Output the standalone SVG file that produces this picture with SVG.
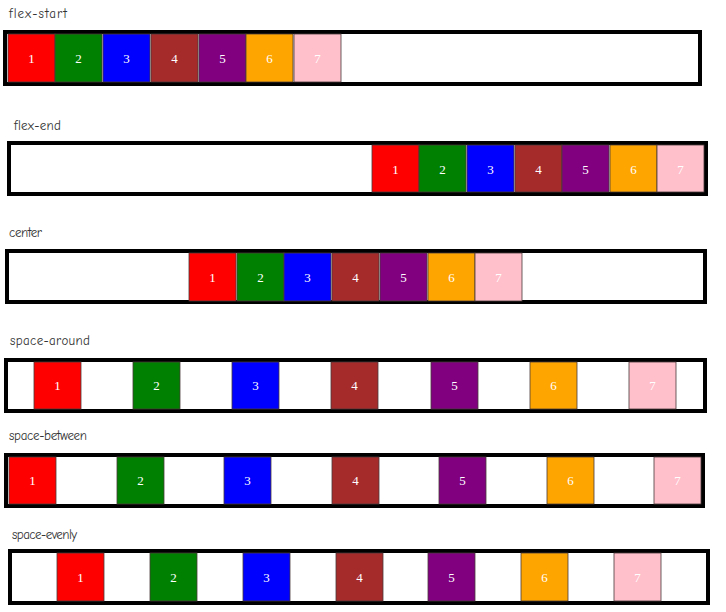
<svg xmlns="http://www.w3.org/2000/svg" width="726" height="612" viewBox="0 0 726 612">
<style>
.lbl{font-family:"Comic Neue","DejaVu Sans","Liberation Sans",sans-serif;font-size:13px;fill:#333}
.box{fill:#fff;stroke:#000;stroke-width:4}
.it{stroke:#4a3a3a;stroke-width:0.8}
.n{font-family:"Liberation Serif","Times New Roman",serif;font-size:13px;fill:#fff;text-anchor:middle;dominant-baseline:central}
.c1{fill:#ff0000}.c2{fill:#008000}.c3{fill:#0000ff}.c4{fill:#a52a2a}.c5{fill:#800080}.c6{fill:#ffa500}.c7{fill:#ffc0cb}
</style>
<rect width="726" height="612" fill="#fff"/>

<g id="flex-start">
<text class="lbl" x="9" y="18" textLength="58">flex-start</text>
<rect class="box" x="5" y="32" width="695" height="52"/>
<g id="fs1"><rect class="it c1" x="8" y="34" width="47" height="48"/><text class="n" x="31.5" y="58">1</text></g>
<g id="fs2"><rect class="it c2" x="55" y="34" width="47" height="48"/><text class="n" x="78.5" y="58">2</text></g>
<g id="fs3"><rect class="it c3" x="103" y="34" width="47" height="48"/><text class="n" x="126.5" y="58">3</text></g>
<g id="fs4"><rect class="it c4" x="151" y="34" width="47" height="48"/><text class="n" x="174.5" y="58">4</text></g>
<g id="fs5"><rect class="it c5" x="199" y="34" width="47" height="48"/><text class="n" x="222.5" y="58">5</text></g>
<g id="fs6"><rect class="it c6" x="246" y="34" width="47" height="48"/><text class="n" x="269.5" y="58">6</text></g>
<g id="fs7"><rect class="it c7" x="294" y="34" width="47" height="48"/><text class="n" x="317.5" y="58">7</text></g>
</g>

<g id="flex-end">
<text class="lbl" x="14" y="130" textLength="47">flex-end</text>
<rect class="box" x="9" y="143" width="697" height="51"/>
<g id="fe1"><rect class="it c1" x="372" y="145" width="47" height="47"/><text class="n" x="395.5" y="169">1</text></g>
<g id="fe2"><rect class="it c2" x="419" y="145" width="47" height="47"/><text class="n" x="442.5" y="169">2</text></g>
<g id="fe3"><rect class="it c3" x="467" y="145" width="47" height="47"/><text class="n" x="490.5" y="169">3</text></g>
<g id="fe4"><rect class="it c4" x="515" y="145" width="47" height="47"/><text class="n" x="538.5" y="169">4</text></g>
<g id="fe5"><rect class="it c5" x="562" y="145" width="47" height="47"/><text class="n" x="585.5" y="169">5</text></g>
<g id="fe6"><rect class="it c6" x="610" y="145" width="47" height="47"/><text class="n" x="633.5" y="169">6</text></g>
<g id="fe7"><rect class="it c7" x="657" y="145" width="47" height="47"/><text class="n" x="680.5" y="169">7</text></g>
</g>

<g id="center">
<text class="lbl" x="9" y="237" textLength="33">center</text>
<rect class="box" x="7" y="251" width="698" height="51"/>
<g id="ce1"><rect class="it c1" x="189" y="253" width="47" height="48"/><text class="n" x="212.5" y="277">1</text></g>
<g id="ce2"><rect class="it c2" x="237" y="253" width="47" height="48"/><text class="n" x="260.5" y="277">2</text></g>
<g id="ce3"><rect class="it c3" x="284" y="253" width="47" height="48"/><text class="n" x="307.5" y="277">3</text></g>
<g id="ce4"><rect class="it c4" x="332" y="253" width="47" height="48"/><text class="n" x="355.5" y="277">4</text></g>
<g id="ce5"><rect class="it c5" x="380" y="253" width="47" height="48"/><text class="n" x="403.5" y="277">5</text></g>
<g id="ce6"><rect class="it c6" x="428" y="253" width="47" height="48"/><text class="n" x="451.5" y="277">6</text></g>
<g id="ce7"><rect class="it c7" x="475" y="253" width="47" height="48"/><text class="n" x="498.5" y="277">7</text></g>
</g>

<g id="space-around">
<text class="lbl" x="10" y="345" textLength="80">space-around</text>
<rect class="box" x="6" y="360" width="699" height="51"/>
<g id="sa1"><rect class="it c1" x="34" y="362" width="47" height="47"/><text class="n" x="57.5" y="385.5">1</text></g>
<g id="sa2"><rect class="it c2" x="133" y="362" width="47" height="47"/><text class="n" x="156.5" y="385.5">2</text></g>
<g id="sa3"><rect class="it c3" x="232" y="362" width="47" height="47"/><text class="n" x="255.5" y="385.5">3</text></g>
<g id="sa4"><rect class="it c4" x="331" y="362" width="47" height="47"/><text class="n" x="354.5" y="385.5">4</text></g>
<g id="sa5"><rect class="it c5" x="431" y="362" width="47" height="47"/><text class="n" x="454.5" y="385.5">5</text></g>
<g id="sa6"><rect class="it c6" x="530" y="362" width="47" height="47"/><text class="n" x="553.5" y="385.5">6</text></g>
<g id="sa7"><rect class="it c7" x="629" y="362" width="47" height="47"/><text class="n" x="652.5" y="385.5">7</text></g>
</g>

<g id="space-between">
<text class="lbl" x="9" y="440" textLength="78">space-between</text>
<rect class="box" x="6" y="455" width="697" height="51"/>
<g id="sb1"><rect class="it c1" x="9" y="457" width="47" height="47"/><text class="n" x="32.5" y="480.5">1</text></g>
<g id="sb2"><rect class="it c2" x="117" y="457" width="47" height="47"/><text class="n" x="140.5" y="480.5">2</text></g>
<g id="sb3"><rect class="it c3" x="224" y="457" width="47" height="47"/><text class="n" x="247.5" y="480.5">3</text></g>
<g id="sb4"><rect class="it c4" x="332" y="457" width="47" height="47"/><text class="n" x="355.5" y="480.5">4</text></g>
<g id="sb5"><rect class="it c5" x="439" y="457" width="47" height="47"/><text class="n" x="462.5" y="480.5">5</text></g>
<g id="sb6"><rect class="it c6" x="547" y="457" width="47" height="47"/><text class="n" x="570.5" y="480.5">6</text></g>
<g id="sb7"><rect class="it c7" x="654" y="457" width="47" height="47"/><text class="n" x="677.5" y="480.5">7</text></g>
</g>

<g id="space-evenly">
<text class="lbl" x="12" y="539" textLength="65">space-evenly</text>
<rect class="box" x="10" y="551" width="698" height="52"/>
<g id="se1"><rect class="it c1" x="57" y="553" width="47" height="48"/><text class="n" x="80.5" y="577">1</text></g>
<g id="se2"><rect class="it c2" x="150" y="553" width="47" height="48"/><text class="n" x="173.5" y="577">2</text></g>
<g id="se3"><rect class="it c3" x="243" y="553" width="47" height="48"/><text class="n" x="266.5" y="577">3</text></g>
<g id="se4"><rect class="it c4" x="336" y="553" width="47" height="48"/><text class="n" x="359.5" y="577">4</text></g>
<g id="se5"><rect class="it c5" x="428" y="553" width="47" height="48"/><text class="n" x="451.5" y="577">5</text></g>
<g id="se6"><rect class="it c6" x="521" y="553" width="47" height="48"/><text class="n" x="544.5" y="577">6</text></g>
<g id="se7"><rect class="it c7" x="614" y="553" width="47" height="48"/><text class="n" x="637.5" y="577">7</text></g>
</g>

<g id="connectors"/>
</svg>
